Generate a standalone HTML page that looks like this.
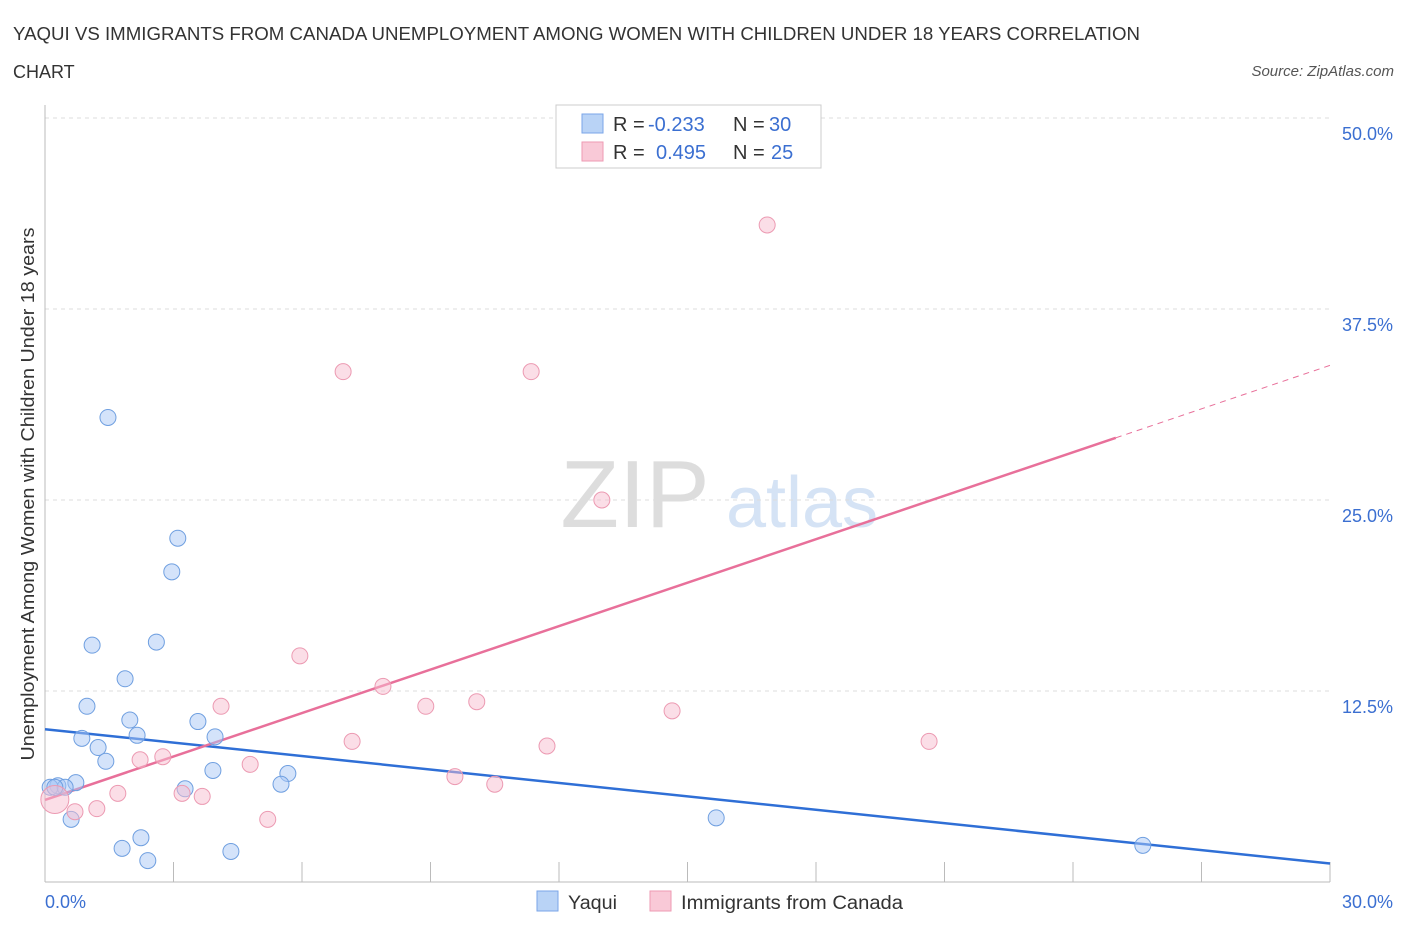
<!DOCTYPE html>
<html><head><meta charset="utf-8"><style>
body{margin:0;background:#fff;font-family:"Liberation Sans",sans-serif;}
svg text{font-family:"Liberation Sans",sans-serif;}
</style></head><body>
<svg id="chart" width="1406" height="930" viewBox="0 0 1406 930" xmlns="http://www.w3.org/2000/svg">
<text x="13" y="40" font-size="18" fill="#333" textLength="1127" lengthAdjust="spacingAndGlyphs">YAQUI VS IMMIGRANTS FROM CANADA UNEMPLOYMENT AMONG WOMEN WITH CHILDREN UNDER 18 YEARS CORRELATION</text>
<text x="13" y="78" font-size="18" fill="#333">CHART</text>
<text x="1394" y="76" font-size="15" fill="#555" font-style="italic" text-anchor="end">Source: ZipAtlas.com</text>
<g>
<text x="635" y="527" font-size="96" fill="#ddd" font-family="Liberation Serif" text-anchor="middle">ZIP</text>
<text x="802" y="527" font-size="72" fill="#d5e3f5" text-anchor="middle">atlas</text>
</g>
<g id="grid"></g>
<g id="axes"></g>
<text transform="translate(34,494) rotate(-90)" font-size="18" fill="#333" text-anchor="middle" textLength="533" lengthAdjust="spacingAndGlyphs">Unemployment Among Women with Children Under 18 years</text>
<g id="lines"></g>
<g id="points"></g>
<g>
<rect x="556" y="105" width="265" height="63" fill="#fff" stroke="#ccc"/>
<rect x="582" y="114" width="21" height="19" fill="#b9d3f6" stroke="#7aa6e8"/>
<rect x="582" y="142" width="21" height="19" fill="#f9c9d7" stroke="#ee9ab3"/>
<text x="613" y="131" font-size="20" fill="#333">R =</text>
<text x="648" y="131" font-size="20" fill="#3b6fd1">-0.233</text>
<text x="733" y="131" font-size="20" fill="#333">N =</text>
<text x="769" y="131" font-size="20" fill="#3b6fd1">30</text>
<text x="613" y="159" font-size="20" fill="#333">R =</text>
<text x="656" y="159" font-size="20" fill="#3b6fd1">0.495</text>
<text x="733" y="159" font-size="20" fill="#333">N =</text>
<text x="771" y="159" font-size="20" fill="#3b6fd1">25</text>
</g>
<g>
<rect x="537" y="891" width="21" height="20" fill="#b9d3f6" stroke="#7aa6e8"/>
<text x="568" y="909" font-size="19" fill="#333" textLength="49" lengthAdjust="spacingAndGlyphs">Yaqui</text>
<rect x="650" y="891" width="21" height="20" fill="#f9c9d7" stroke="#ee9ab3"/>
<text x="681" y="909" font-size="19" fill="#333" textLength="222" lengthAdjust="spacingAndGlyphs">Immigrants from Canada</text>
</g>
</svg>
<script>
const yaquiX=[1.47,3.1,2.96,1.1,2.6,1.87,0.98,1.98,3.57,2.15,0.86,3.97,1.24,1.42,3.92,5.67,0.72,0.3,0.12,0.47,3.27,5.51,0.61,2.24,1.8,2.4,4.34,15.67,25.63,0.23];
const yaquiY=[30.4,22.5,20.3,15.5,15.7,13.3,11.5,10.6,10.5,9.6,9.4,9.5,8.8,7.9,7.3,7.1,6.5,6.3,6.2,6.2,6.1,6.4,4.1,2.9,2.2,1.4,2.0,4.2,2.4,6.2];
const canadaX=[16.86,6.96,11.35,13.0,5.95,7.89,10.08,4.11,8.89,14.64,7.17,20.64,11.72,2.75,2.22,4.79,9.57,10.5,1.7,3.2,3.67,1.21,0.7,5.2,0.23];
const canadaY=[43.0,33.4,33.4,25.0,14.8,12.8,11.8,11.5,11.5,11.2,9.2,9.2,8.9,8.2,8.0,7.7,6.9,6.4,5.8,5.8,5.6,4.8,4.6,4.1,5.4];
const yTicks=[12.5,25,37.5,50];
const yTickLabels=["12.5%","25.0%","37.5%","50.0%"];
const xTicks=[0,3,6,9,12,15,18,21,24,27,30];
const yaquiTrend=[10.0,-0.293];
const canadaTrend=[5.37,0.948];
const X=v=>45+v/30*1285, Y=v=>882-v/50*764;
const NS="http://www.w3.org/2000/svg";
function mk(p,t,a){const e=document.createElementNS(NS,t);for(const k in a)e.setAttribute(k,a[k]);document.getElementById(p).appendChild(e);return e;}
yTicks.forEach((v,i)=>{
 const g=mk('grid','line',{x1:45,x2:1330,y1:Y(v),y2:Y(v),stroke:'#ddd','stroke-dasharray':'4,4'});
 
 
 const t=mk('axes','text',{x:1393,y:Y(v)+22,'font-size':18,fill:'#3b6fd1','text-anchor':'end'});t.textContent=yTickLabels[i];
 
 
});
const ya=mk('axes','line',{x1:45,x2:45,y1:105,y2:882,stroke:'#bbb'});


const xa=mk('axes','line',{x1:45,x2:1330,y1:882,y2:882,stroke:'#bbb'});


xTicks.forEach(v=>{const t=mk('axes','line',{x1:X(v),x2:X(v),y1:862,y2:882,stroke:'#bbb'});
 
 });
[[0,"0.0%",'start',45],[30,"30.0%",'end',1393]].forEach(a=>{const t=mk('axes','text',{x:a[3],y:908,'font-size':18,fill:'#3b6fd1','text-anchor':a[2]});t.textContent=a[1];
 
 });
yaquiX.forEach((x,i)=>{const c=mk('points','circle',{cx:X(x),cy:Y(yaquiY[i]),r:8,fill:'rgba(170,200,245,0.5)',stroke:'#6f9fe0','stroke-width':1});
 
 });
canadaX.forEach((x,i)=>{const c=mk('points','circle',{cx:X(x),cy:Y(canadaY[i]),r:i==24?14:8,fill:'rgba(248,190,208,0.5)',stroke:'#ec9ab2','stroke-width':1});
 
 });
const l1=mk('lines','line',{x1:X(0),y1:Y(yaquiTrend[0]),x2:X(30),y2:Y(yaquiTrend[0]+30*yaquiTrend[1]),stroke:'#2f6fd6','stroke-width':2.5});


const l2=mk('lines','line',{x1:X(0),y1:Y(canadaTrend[0]),x2:X(25),y2:Y(canadaTrend[0]+25*canadaTrend[1]),stroke:'#e8709a','stroke-width':2.5});


const l3=mk('lines','line',{x1:X(25),y1:Y(canadaTrend[0]+25*canadaTrend[1]),x2:X(30),y2:Y(canadaTrend[0]+30*canadaTrend[1]),stroke:'#e8709a','stroke-width':1,'stroke-dasharray':'6,5'});


</script>
</body></html>
